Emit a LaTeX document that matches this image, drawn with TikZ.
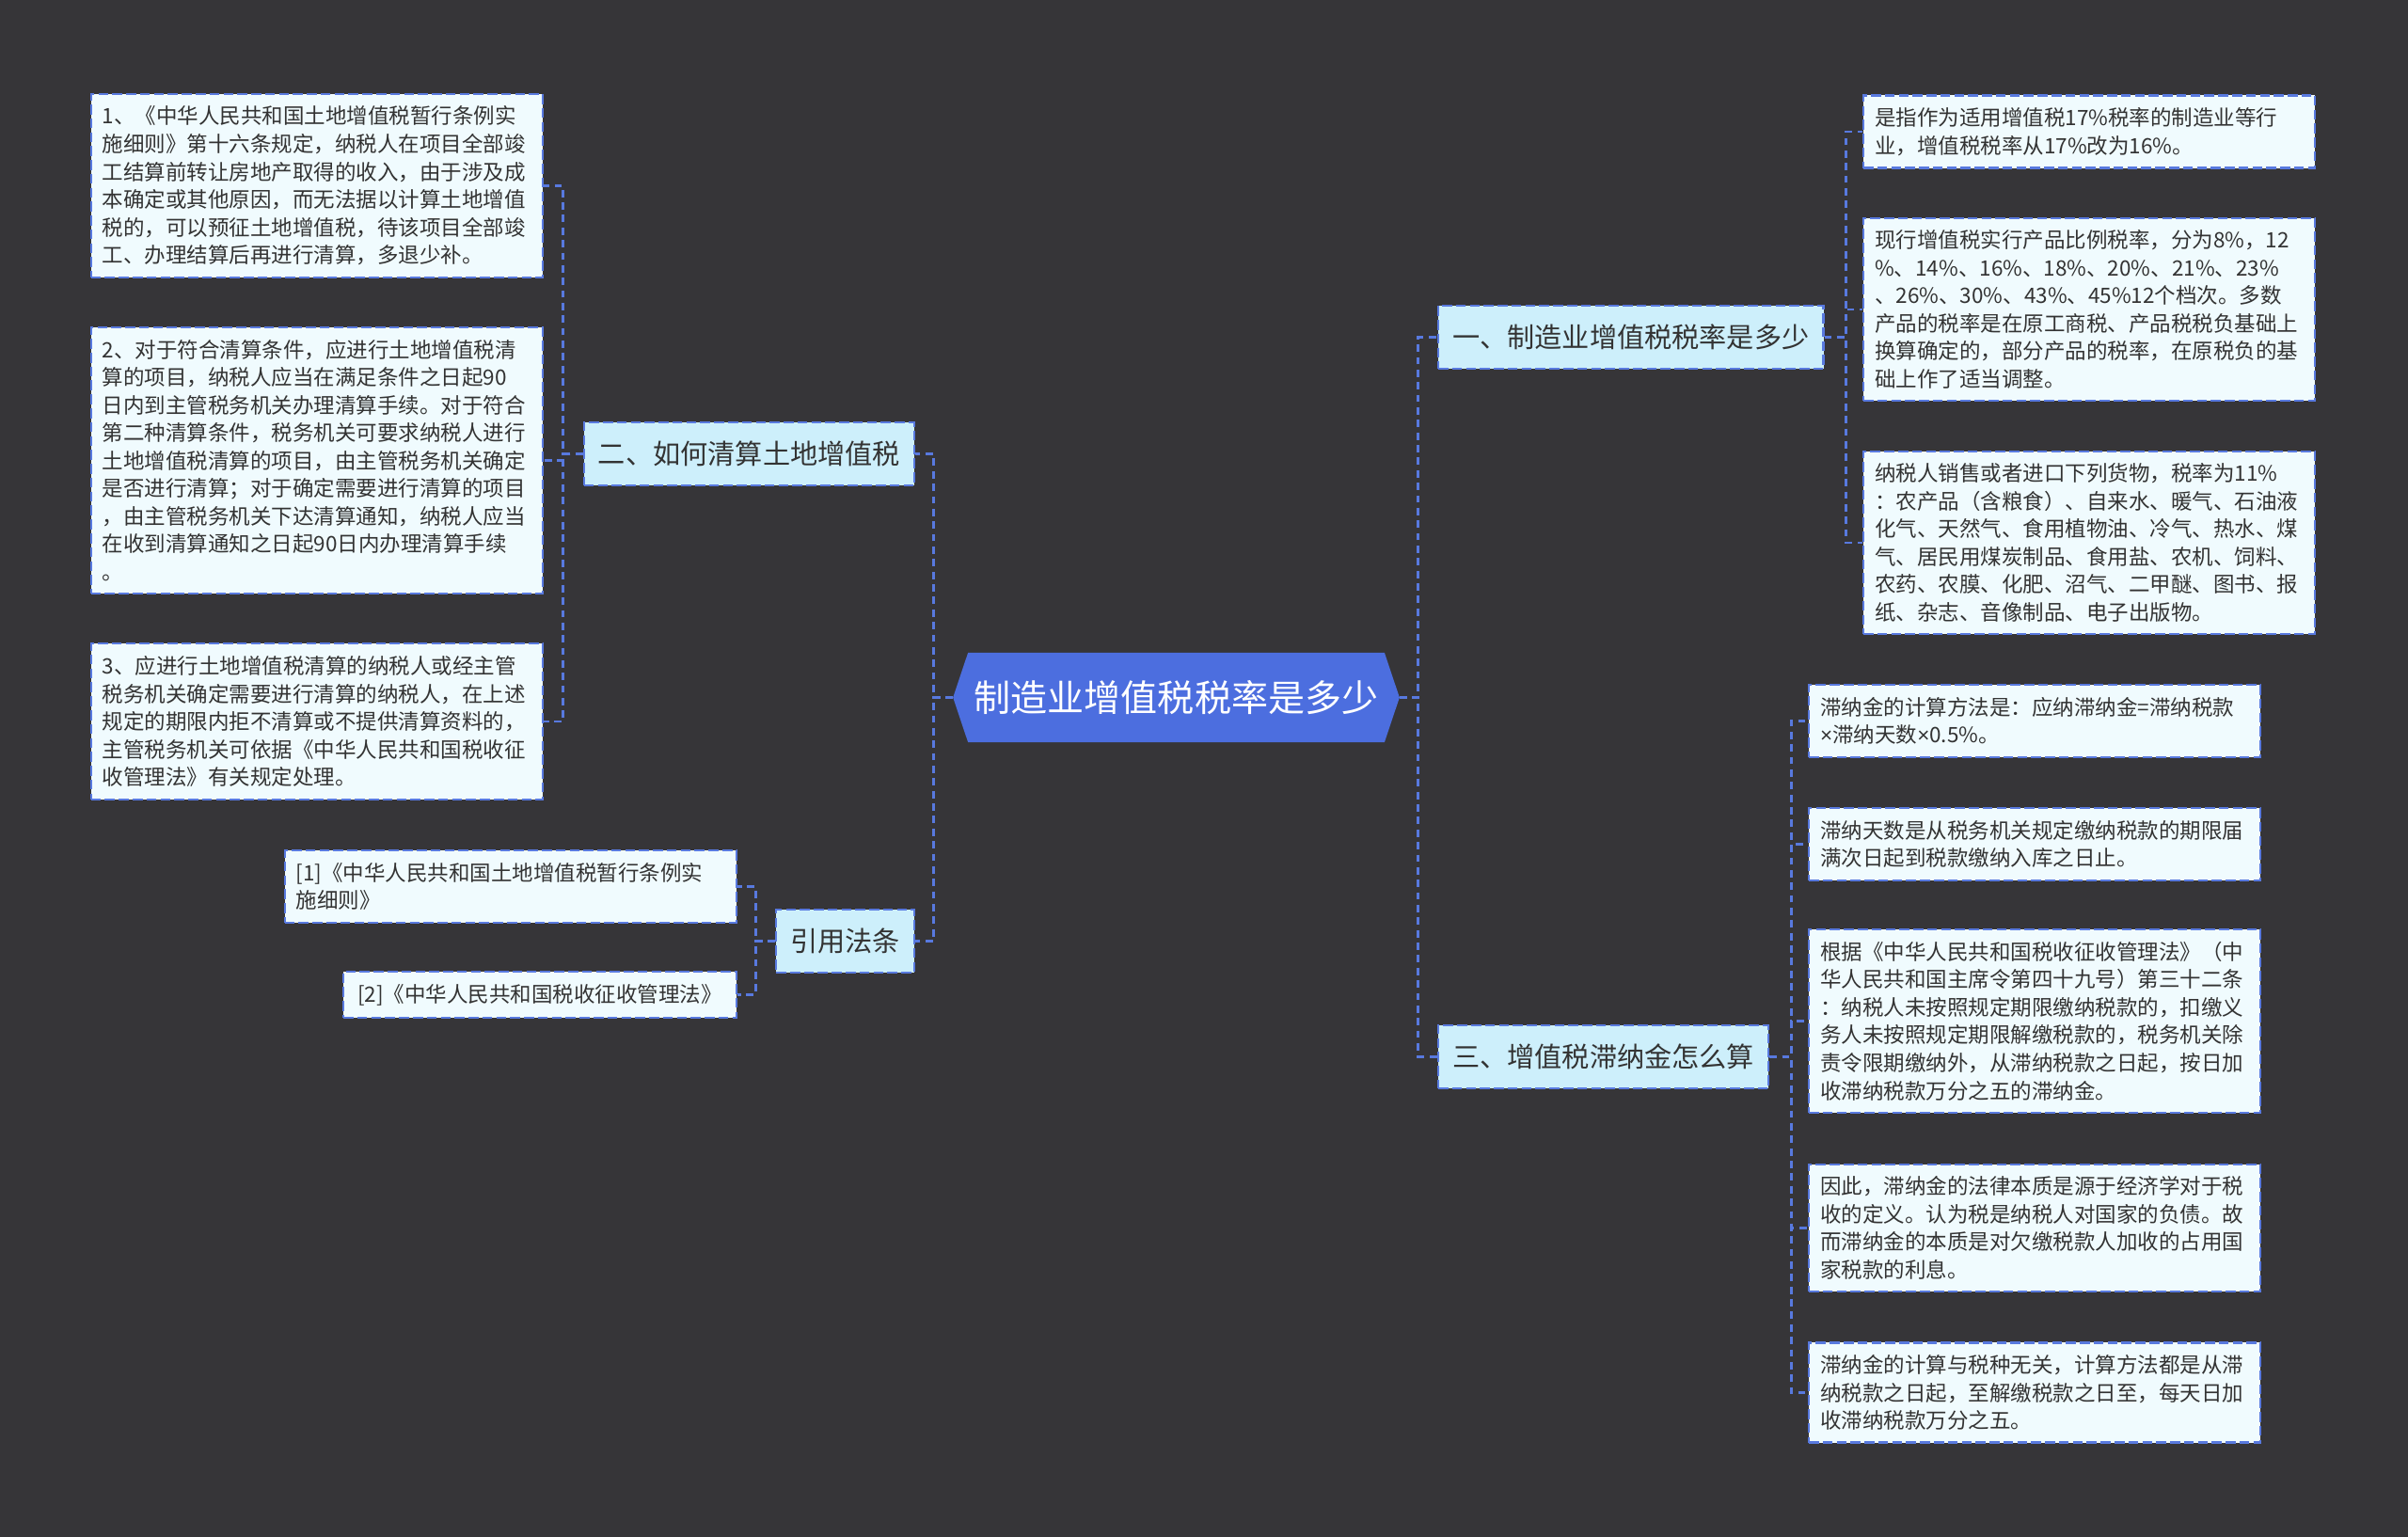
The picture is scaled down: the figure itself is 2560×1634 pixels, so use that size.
\documentclass[tikz,border=0pt]{standalone}
\usepackage{fontspec}
\setmainfont{Noto Sans CJK SC}
\newfontfamily\latinfont{Liberation Sans}
\usepackage{xcolor}
\usepackage{tikz}
\usetikzlibrary{calc,positioning,backgrounds}
\definecolor{bgDark}{HTML}{363538}
\definecolor{rootBlue}{HTML}{4C6EDF}
\definecolor{lineBlue}{HTML}{5879DF}
\definecolor{topicFill}{HTML}{CDEFFB}
\definecolor{leafFill}{HTML}{F0FBFE}
\definecolor{inkGray}{HTML}{333333}

\begin{document}
\begin{tikzpicture}[x=0.01cm,y=-0.01cm,
  topic/.style={draw=lineBlue,dash pattern=on 3pt off 1.2pt,line width=0.6pt,
    fill=topicFill,text=inkGray,font=\fontsize{8.3pt}{10pt}\selectfont,
    inner xsep=0.15cm,inner ysep=0pt,minimum height=0.67cm},
  leaf/.style={draw=lineBlue,dash pattern=on 3pt off 1.2pt,line width=0.6pt,
    fill=leafFill,text=inkGray,font=\fontsize{6.4pt}{8.4pt}\selectfont,
    inner xsep=0.12cm,inner ysep=0.13cm,text width=4.56cm,align=left},
  link/.style={draw=lineBlue,line width=0.8pt,dash pattern=on 2.2pt off 1.6pt}]
  \useasboundingbox (0,0) rectangle (2560,1634);

  \node[text=white,font=\fontsize{11.1pt}{13pt}\selectfont,inner sep=0pt,
    minimum width=4.73cm,minimum height=0.94cm] (root) at (1250.5,741.5)
    {制造业增值税税率是多少};
  \begin{scope}[on background layer]
    \fill[bgDark] (0,0) rectangle (2560,1634);
    \fill[rootBlue] ($(root.north west)+(16,0)$) -- ($(root.north east)+(-16,0)$)
      -- (root.east) -- ($(root.south east)+(-16,0)$)
      -- ($(root.south west)+(16,0)$) -- (root.west) -- cycle;
  \end{scope}

  \node[topic,anchor=west] (rate) at (1528,358.5) {一、制造业增值税税率是多少};
  \node[topic,anchor=west] (late) at (1528,1123.5) {三、增值税滞纳金怎么算};
  \node[topic,anchor=east] (clear) at (973,482.5) {二、如何清算土地增值税};
  \node[topic,anchor=east] (cite) at (973,1000.5) {引用法条};

  \node[leaf,anchor=west] (rateA) at (1980,140) {是指作为适用增值税17\%税率的制造业等行\\
    业，增值税税率从17\%改为16\%。};
  \node[leaf,anchor=west] (rateB) at (1980,329) {现行增值税实行产品比例税率，分为8\%，12\\
    \%、14\%、16\%、18\%、20\%、21\%、23\%\\
    、26\%、30\%、43\%、45\%12个档次。多数\\
    产品的税率是在原工商税、产品税税负基础上\\
    换算确定的，部分产品的税率，在原税负的基\\
    础上作了适当调整。};
  \node[leaf,anchor=west] (rateC) at (1980,577) {纳税人销售或者进口下列货物，税率为11\%\\
    ：农产品（含粮食）、自来水、暖气、石油液\\
    化气、天然气、食用植物油、冷气、热水、煤\\
    气、居民用煤炭制品、食用盐、农机、饲料、\\
    农药、农膜、化肥、沼气、二甲醚、图书、报\\
    纸、杂志、音像制品、电子出版物。};

  \node[leaf,anchor=west] (lateA) at (1922,766.5) {滞纳金的计算方法是：应纳滞纳金=滞纳税款\\
    {\latinfont ×}滞纳天数{\latinfont ×}0.5\%。};
  \node[leaf,anchor=west] (lateB) at (1922,897.5) {滞纳天数是从税务机关规定缴纳税款的期限届\\
    满次日起到税款缴纳入库之日止。};
  \node[leaf,anchor=west] (lateC) at (1922,1085.5) {根据《中华人民共和国税收征收管理法》（中\\
    华人民共和国主席令第四十九号）第三十二条\\
    ：纳税人未按照规定期限缴纳税款的，扣缴义\\
    务人未按照规定期限解缴税款的，税务机关除\\
    责令限期缴纳外，从滞纳税款之日起，按日加\\
    收滞纳税款万分之五的滞纳金。};
  \node[leaf,anchor=west] (lateD) at (1922,1305.5) {因此，滞纳金的法律本质是源于经济学对于税\\
    收的定义。认为税是纳税人对国家的负债。故\\
    而滞纳金的本质是对欠缴税款人加收的占用国\\
    家税款的利息。};
  \node[leaf,anchor=west] (lateE) at (1922,1480.5) {滞纳金的计算与税种无关，计算方法都是从滞\\
    纳税款之日起，至解缴税款之日至，每天日加\\
    收滞纳税款万分之五。};

  \node[leaf,anchor=east] (clearA) at (578,197.5) {1、《中华人民共和国土地增值税暂行条例实\\
    施细则》第十六条规定，纳税人在项目全部竣\\
    工结算前转让房地产取得的收入，由于涉及成\\
    本确定或其他原因，而无法据以计算土地增值\\
    税的，可以预征土地增值税，待该项目全部竣\\
    工、办理结算后再进行清算，多退少补。};
  \node[leaf,anchor=east] (clearB) at (578,489.5) {2、对于符合清算条件，应进行土地增值税清\\
    算的项目，纳税人应当在满足条件之日起90\\
    日内到主管税务机关办理清算手续。对于符合\\
    第二种清算条件，税务机关可要求纳税人进行\\
    土地增值税清算的项目，由主管税务机关确定\\
    是否进行清算；对于确定需要进行清算的项目\\
    ，由主管税务机关下达清算通知，纳税人应当\\
    在收到清算通知之日起90日内办理清算手续\\
    。};
  \node[leaf,anchor=east] (clearC) at (578,767) {3、应进行土地增值税清算的纳税人或经主管\\
    税务机关确定需要进行清算的纳税人，在上述\\
    规定的期限内拒不清算或不提供清算资料的，\\
    主管税务机关可依据《中华人民共和国税收征\\
    收管理法》有关规定处理。};

  \node[leaf,anchor=east] (citeA) at (784,942.5) {[1]《中华人民共和国土地增值税暂行条例实\\
    施细则》};
  \node[leaf,anchor=east,text width=,inner xsep=0.15cm] (citeB) at (784,1057.5)
    {[2]《中华人民共和国税收征收管理法》};

  \draw[link] (root.east) -- ++(20,0) |- (rate.west);
  \draw[link] (root.east) -- ++(20,0) |- (late.west);
  \draw[link] (root.west) -- ++(-21,0) |- (clear.east);
  \draw[link] (root.west) -- ++(-21,0) |- (cite.east);
  \foreach \k in {rateA,rateB,rateC}
    \draw[link] (rate.east) -- ++(23,0) |- (\k.west);
  \foreach \k in {lateA,lateB,lateC,lateD,lateE}
    \draw[link] (late.east) -- ++(23,0) |- (\k.west);
  \foreach \k in {clearA,clearB,clearC}
    \draw[link] (clear.west) -- ++(-21,0) |- (\k.east);
  \foreach \k in {citeA,citeB}
    \draw[link] (cite.west) -- ++(-21,0) |- (\k.east);
\end{tikzpicture}
\end{document}
